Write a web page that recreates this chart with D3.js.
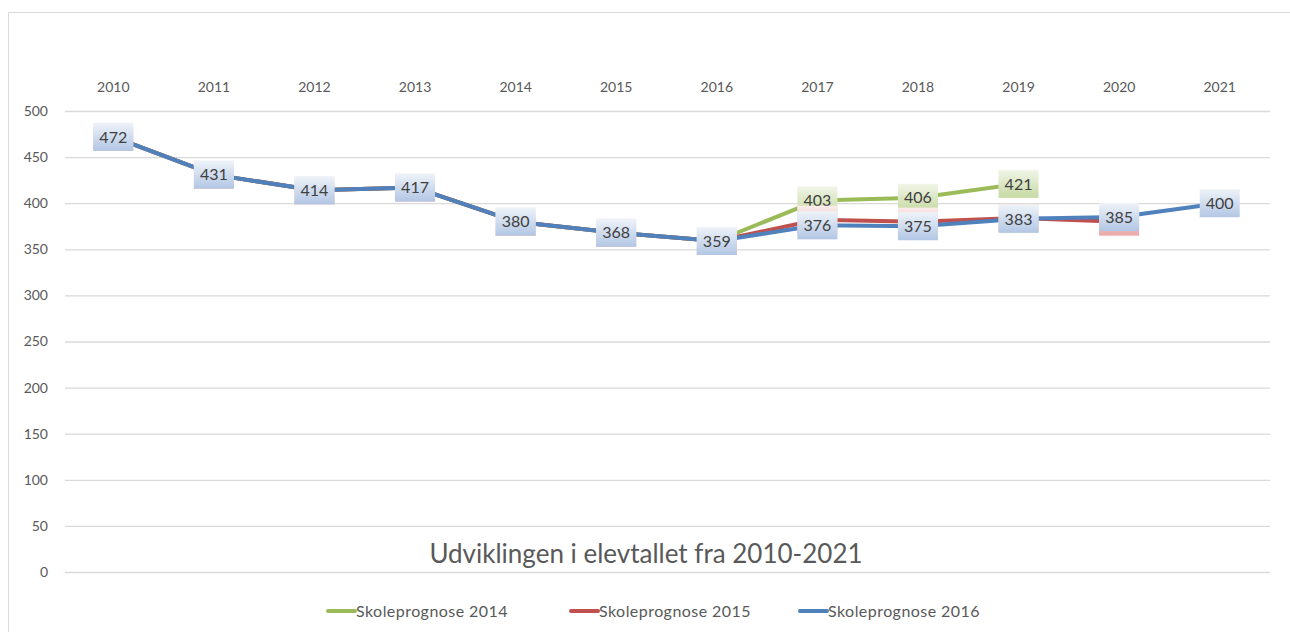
<!DOCTYPE html>
<html>
<head>
<meta charset="utf-8">
<script src="https://cdn.jsdelivr.net/npm/d3@7"></script>
<style>
  body { margin: 0; background: #fff; }
  text { font-family: Lato, "Open Sans", sans-serif; }
</style>
</head>
<body>
<div id="chart"></div>
<script>
var years = ["2010","2011","2012","2013","2014","2015","2016","2017","2018","2019","2020","2021"];
var prognose2014 = [472, 431, 414, 417, 380, 368, 359, 403, 406, 421, null, null];
var prognose2015 = [472, 431, 414, 417, 380, 368, 359, 382, 380, 384, 380, null];
var prognose2016 = [472, 431, 414, 417, 380, 368, 359, 376, 375, 383, 385, 400];
var yTicks = [0, 50, 100, 150, 200, 250, 300, 350, 400, 450, 500];

var series = [
  {name: "Skoleprognose 2014", values: prognose2014, color: "#9bbb59", top: "#f1f5e8", bottom: "#c6d9a2", showText: true},
  {name: "Skoleprognose 2015", values: prognose2015, color: "#c0504d", top: "#fbecec", bottom: "#e8a7a6", showText: false},
  {name: "Skoleprognose 2016", values: prognose2016, color: "#4f81bd", top: "#eef3f9", bottom: "#b2c6e4", showText: true}
];

function init(){
    var W = 1290, H = 632;
    var margin = {top: 111, left: 63};
    var w = 1270 - margin.left;
    var h = 572 - margin.top;

    var svg = d3.select("#chart")
        .append("svg")
        .attr("width", W)
        .attr("height", H);

    // chart frame
    svg.append("path")
        .attr("d", "M8.5," + H + "V12.5H" + W)
        .attr("fill", "none")
        .attr("stroke", "#d9d9d9")
        .attr("stroke-width", 1);

    var g = svg.append("g")
        .attr("transform", "translate(" + margin.left + "," + margin.top + ")");

    var xScale = d3.scaleBand()
        .domain(years)
        .range([0, w]);

    var yScale = d3.scaleLinear()
        .domain([0, 500])
        .range([h, 0]);

    // gridlines + y axis
    var yAxis = d3.axisLeft(yScale)
        .tickValues(yTicks)
        .tickSize(-(w - 2))
        .tickPadding(17);

    var yg = g.append("g")
        .attr("transform", "translate(2,0)")
        .call(yAxis);
    yg.select(".domain").remove();
    yg.selectAll("line").attr("stroke", "#d9d9d9").attr("stroke-width", 1.3);
    yg.selectAll("text")
        .attr("fill", "#595959")
        .style("font-size", "14px");

    // x axis labels on top
    var xAxis = d3.axisTop(xScale).tickSize(0).tickPadding(0);
    var xg = g.append("g")
        .attr("transform", "translate(0,-19)")
        .call(xAxis);
    xg.select(".domain").remove();
    xg.selectAll("text")
        .attr("fill", "#595959")
        .style("font-size", "14px");

    var cx = function(i){ return xScale(years[i]) + xScale.bandwidth() / 2; };

    var line = d3.line()
        .defined(function(d){ return d != null; })
        .x(function(d, i){ return cx(i); })
        .y(function(d){ return yScale(d); });

    var defs = svg.append("defs");
    series.forEach(function(s, k){
        var grad = defs.append("linearGradient")
            .attr("id", "grad" + k)
            .attr("x1", 0).attr("y1", 0).attr("x2", 0).attr("y2", 1);
        grad.append("stop").attr("offset", "0%").attr("stop-color", s.top);
        grad.append("stop").attr("offset", "100%").attr("stop-color", s.bottom);
    });

    series.forEach(function(s){
        g.append("path")
            .datum(s.values)
            .attr("fill", "none")
            .attr("stroke", s.color)
            .attr("stroke-width", 4)
            .attr("stroke-linejoin", "round")
            .attr("d", line);
    });

    // data labels (red ones sit fully under the blue labels, only the boxes peek out)
    series.forEach(function(s, k){
        var lab = g.append("g");
        s.values.forEach(function(v, i){
            if (v == null) return;
            if (k === 0 && i < 7) return; // same as the 2016 label on top
            var lg = lab.append("g")
                .attr("transform", "translate(" + cx(i) + "," + yScale(v) + ")");
            lg.append("rect")
                .attr("x", -20).attr("y", -14)
                .attr("width", 40).attr("height", 28)
                .attr("fill", "url(#grad" + k + ")");
            if (!s.showText) return;
            lg.append("text")
                .attr("text-anchor", "middle")
                .attr("dy", "0.36em")
                .attr("fill", "#404040")
                .style("font-size", "16px")
                .text(v);
        });
    });

    // title
    svg.append("text")
        .attr("x", 646)
        .attr("y", 563)
        .attr("text-anchor", "middle")
        .attr("fill", "#595959")
        .style("font-size", "26px")
        .text("Udviklingen i elevtallet fra 2010-2021");

    // legend
    var legendX = [327, 570, 799];
    series.forEach(function(s, k){
        var lg = svg.append("g")
            .attr("transform", "translate(" + legendX[k] + ",611)");
        lg.append("line")
            .attr("x1", 1).attr("x2", 28)
            .attr("stroke", s.color)
            .attr("stroke-width", 4)
            .attr("stroke-linecap", "round");
        lg.append("text")
            .attr("x", 29)
            .attr("dy", "0.35em")
            .attr("fill", "#595959")
            .style("font-size", "16px")
            .style("letter-spacing", "0.45px")
            .text(s.name);
    });
}
window.onload = init;
</script>
</body>
</html>
